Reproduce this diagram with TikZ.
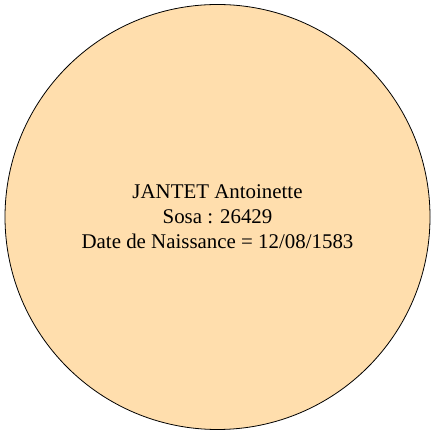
\documentclass[tikz,border=0pt]{standalone}
\usepackage{fontspec}
\setmainfont{Liberation Serif}
\usepackage{xcolor}
\definecolor{peach}{RGB}{255,222,173}

\begin{document}
\begin{tikzpicture}[
    x=1pt, y=1pt,
    person/.style={
        circle,
        draw,
        fill=peach,
        line width=0.8pt,
        minimum size=425pt,
        inner sep=0pt,
        align=center,
        font=\fontsize{20.9}{25}\selectfont
    }
]
\useasboundingbox (0, 0) rectangle (435, 435);

\node[person] (ancestor) at (217.5, 218) {JANTET Antoinette\\Sosa : 26429\\Date de Naissance = 12/08/1583};

\end{tikzpicture}
\end{document}
